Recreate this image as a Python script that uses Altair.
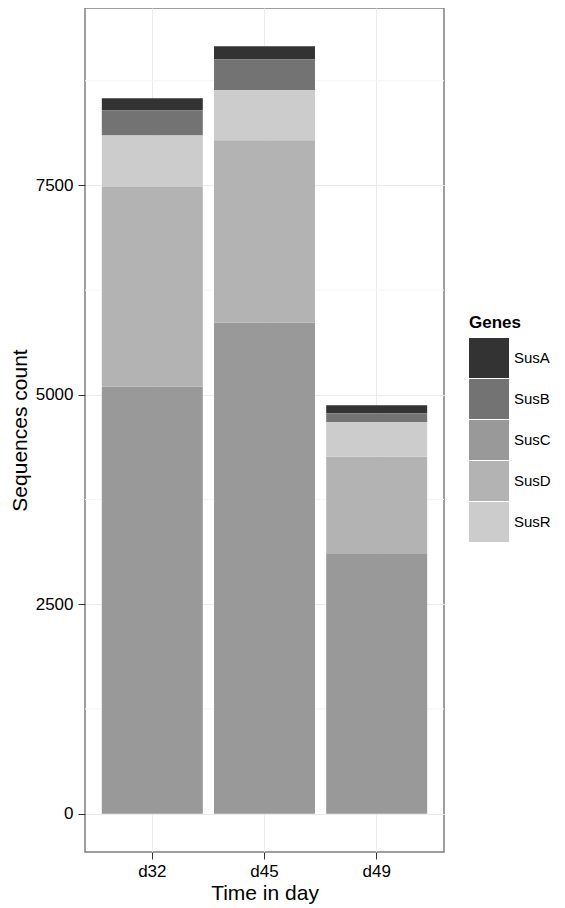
import altair as alt
import pandas as pd

days = ["d32", "d45", "d49"]
genes = ["SusA", "SusB", "SusC", "SusD", "SusR"]
stack_order = ["SusC", "SusD", "SusR", "SusB", "SusA"]  # bottom to top
SusA = [145, 155, 95]
SusB = [300, 370, 105]
SusC = [5100, 5860, 3110]
SusD = [2380, 2180, 1150]
SusR = [615, 595, 415]
gene_colors = ["#333333", "#737373", "#999999", "#b3b3b3", "#cccccc"]
y_ticks = [0, 2500, 5000, 7500]
minor_breaks = [1250, 3750, 6250, 8750]

series = {"SusA": SusA, "SusB": SusB, "SusC": SusC, "SusD": SusD, "SusR": SusR}
rows = []
for g in genes:
    for d, v in zip(days, series[g]):
        rows.append({"day": d, "gene": g, "count": v, "ord": stack_order.index(g)})
df = pd.DataFrame(rows)

ymax = max(a + b + c + d + e for a, b, c, d, e in zip(SusA, SusB, SusC, SusD, SusR))
ydom = [-0.05 * ymax, 1.05 * ymax]
yscale = alt.Scale(domain=ydom, nice=False, zero=False)

FONT = "Liberation Sans"

minor = alt.Chart(pd.DataFrame({"v": minor_breaks})).mark_rule(
    color="#f5f5f5", strokeWidth=1
).encode(y=alt.Y("v:Q", scale=yscale))

bars = alt.Chart(df).mark_bar().encode(
    x=alt.X(
        "day:N",
        sort=days,
        scale=alt.Scale(paddingInner=0.1, paddingOuter=0.15),
        axis=alt.Axis(
            title="Time in day",
            labelAngle=0,
            bandPosition=0.5,
            grid=True,
            labelPadding=4,
            titlePadding=3,
        ),
    ),
    y=alt.Y(
        "count:Q",
        stack="zero",
        scale=yscale,
        axis=alt.Axis(
            title="Sequences count",
            values=y_ticks,
            format="d",
            labelPadding=5,
            titlePadding=5,
        ),
    ),
    color=alt.Color(
        "gene:N",
        scale=alt.Scale(domain=genes, range=gene_colors),
        legend=alt.Legend(
            title="Genes",
            orient="none",
            legendX=384,
            legendY=307,
            symbolType="square",
            symbolSize=1600,
            symbolStrokeWidth=0,
            symbolOpacity=1,
            rowPadding=1,
            labelFontSize=15,
            labelFont=FONT,
            labelColor="black",
            titleFontSize=17,
            titleFont=FONT,
            titleFontWeight="bold",
            titleColor="black",
            labelOffset=5,
            titlePadding=6,
            padding=0,
        ),
    ),
    order=alt.Order("ord:Q", sort="ascending"),
)

chart = (
    alt.layer(minor, bars)
    .properties(
        width=359,
        height=844,
        padding={"left": 77, "top": 0, "right": 113, "bottom": 53},
        autosize="none",
        background="white",
    )
    .configure_view(stroke="#7f7f7f", strokeWidth=1.5)
    .configure_axis(
        labelFont=FONT,
        titleFont=FONT,
        labelFontSize=17,
        titleFontSize=21,
        titleFontWeight="normal",
        labelColor="black",
        titleColor="black",
        tickColor="#333333",
        tickSize=7,
        domain=False,
        gridColor="#ebebeb",
        gridWidth=1,
    )
)

chart.save("out.html", embed_options={"renderer": "svg", "actions": False})
